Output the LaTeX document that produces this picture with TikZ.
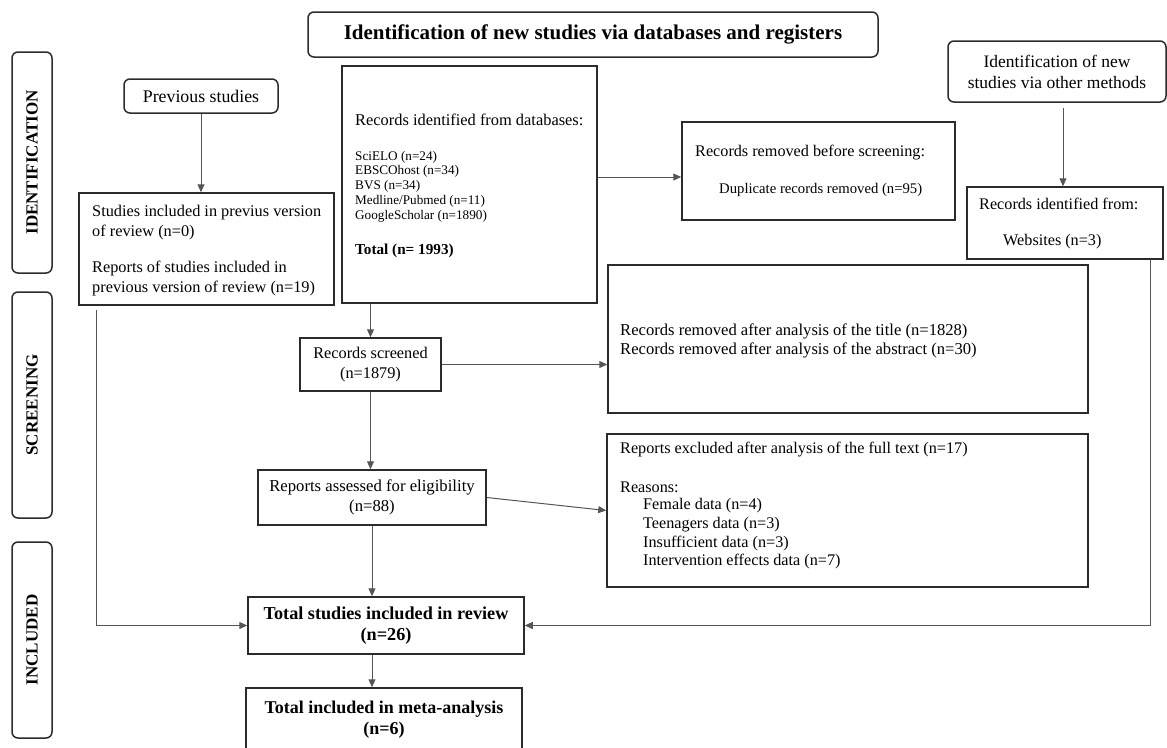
\documentclass[tikz,border=0pt]{standalone}
\usepackage{fontspec}
\setmainfont{Liberation Serif}
\usetikzlibrary{arrows.meta}
\definecolor{boxc}{HTML}{2B2B2B}
\definecolor{linec}{HTML}{555555}
\newcommand\fsz[2]{\fontsize{#1}{#2}\selectfont}
\tikzset{
  box/.style={draw=boxc, line width=1.5pt, inner sep=0pt, align=center},
  rbox/.style={box, rounded corners=6pt},
  conn/.style={draw=linec, line width=1pt, -{Triangle[length=8pt,width=7pt]}},
  txt/.style={inner sep=0pt, anchor=west, align=left},
  phase/.style={rotate=90, inner sep=0pt, font=\fsz{17}{20}\bfseries},
}
\begin{document}
\begin{tikzpicture}[x=1pt,y=-1pt]
\useasboundingbox (0,0) rectangle (1167,747);
\clip (0,0) rectangle (1167,747);

% phase labels
\node[rbox, minimum width=40pt, minimum height=221pt] (pid) at (32,162.5) {};
\node[phase] (pidt) at (pid.center) {IDENTIFICATION};
\node[rbox, minimum width=40pt, minimum height=226pt] (psc) at (32,405) {};
\node[phase] (psct) at (psc.center) {SCREENING};
\node[rbox, minimum width=40pt, minimum height=196pt] (pin) at (32,640) {};
\node[phase] (pint) at (pin.center) {INCLUDED};

% header boxes
\node[rbox, minimum width=570pt, minimum height=45pt, font=\fsz{21}{24}\bfseries] (title) at (593,34.5)
  {Identification of new studies via databases and registers};
\node[rbox, minimum width=154pt, minimum height=34pt, font=\fsz{17.8}{20}] (prevst) at (201,96) {Previous studies};
\node[rbox, minimum width=218pt, minimum height=61pt, font=\fsz{17.5}{21}] (other) at (1057,71.5)
  {Identification of new\\studies via other methods};

% identification boxes
\node[box, minimum width=255pt, minimum height=112pt] (prevbox) at (206.5,249) {};
\node[txt, font=\fsz{16.3}{20}] (pv1) at (92,223) {Studies included in previus version\\of review (n=0)};
\node[txt, font=\fsz{16.3}{19.5}] (pv2) at (92,278.5) {Reports of studies included in\\previous version of review (n=19)};

\node[box, minimum width=255pt, minimum height=237pt] (db) at (469.5,184.5) {};
\node[txt, font=\fsz{16.4}{19}] (db1) at (355,120) {Records identified from databases:};
\node[txt, font=\fsz{13.2}{14.75}] (db2) at (355,186.5)
  {SciELO (n=24)\\EBSCOhost (n=34)\\BVS (n=34)\\Medline/Pubmed (n=11)\\GoogleScholar (n=1890)};
\node[txt, font=\fsz{15.2}{17}\bfseries] (db3) at (355,251) {Total (n= 1993)};

\node[box, minimum width=273pt, minimum height=98pt] (rmv) at (818.5,171) {};
\node[txt, font=\fsz{16.2}{19}] (rmv1) at (695,153) {Records removed before screening:};
\node[txt, font=\fsz{14.7}{17}] (rmv2) at (719,190) {Duplicate records removed (n=95)};

\node[box, minimum width=196pt, minimum height=72pt] (webs) at (1065,223) {};
\node[txt, font=\fsz{16.2}{20}] (wb1) at (979,204) {Records identified from:};
\node[txt, font=\fsz{16.2}{20}] (wb2) at (1003,242) {Websites (n=3)};

% screening boxes
\node[box, minimum width=141pt, minimum height=53pt, font=\fsz{16.3}{20}] (screened) at (370.5,364.5)
  {Records screened\\(n=1879)};
\node[box, minimum width=480pt, minimum height=148pt] (tabs) at (848,339) {};
\node[txt, font=\fsz{16.6}{19}] (tabs1) at (620,340.5)
  {Records removed after analysis of the title (n=1828)\\Records removed after analysis of the abstract (n=30)};

\node[box, minimum width=228pt, minimum height=55pt, font=\fsz{16.7}{19.5}] (reports) at (372,497.5)
  {Reports assessed for eligibility\\(n=88)};
\node[box, minimum width=481pt, minimum height=153pt] (excl) at (847.5,510.5) {};
\node[txt, font=\fsz{16.2}{19}] (ex1) at (620,450) {Reports excluded after analysis of the full text (n=17)};
\node[txt, font=\fsz{16.2}{19}] (ex2) at (620,487) {Reasons:};
\node[txt, font=\fsz{16.2}{18.7}] (ex3) at (643,534)
  {Female data (n=4)\\Teenagers data (n=3)\\Insufficient data (n=3)\\Intervention effects data (n=7)};

% included boxes
\node[box, minimum width=276pt, minimum height=57pt, font=\fsz{18.2}{21}\bfseries] (total) at (386,625.5)
  {Total studies included in review\\(n=26)};
\node[box, minimum width=276pt, minimum height=64pt, font=\fsz{18}{21}\bfseries] (meta) at (384,720)
  {Total included in meta-analysis\\(n=6)};

% connectors
\coordinate (lstart) at (96,310);
\coordinate (rstart) at (1150,259);
\draw[conn] (prevst.south) -- (prevst.south |- prevbox.north);
\draw[conn] (screened.north |- db.south) -- (screened.north);
\draw[conn] ([yshift=7.5pt]db.east) -- ([yshift=7.5pt]db.east -| rmv.west);
\draw[conn] ([yshift=-5pt]other.south -| 1063,0) -- (1063,0 |- webs.north);
\draw[conn] (screened.east) -- (screened.east -| tabs.west);
\draw[conn] (screened.south) -- (screened.south |- reports.north);
\draw[conn] (reports.east) -- (excl.west);
\draw[conn] (reports.south) -- (reports.south |- total.north);
\draw[conn] (reports.south |- total.south) -- (reports.south |- meta.north);
\draw[conn] (lstart) |- (total.west);
\draw[conn] (rstart) |- (total.east);
\end{tikzpicture}
\end{document}
